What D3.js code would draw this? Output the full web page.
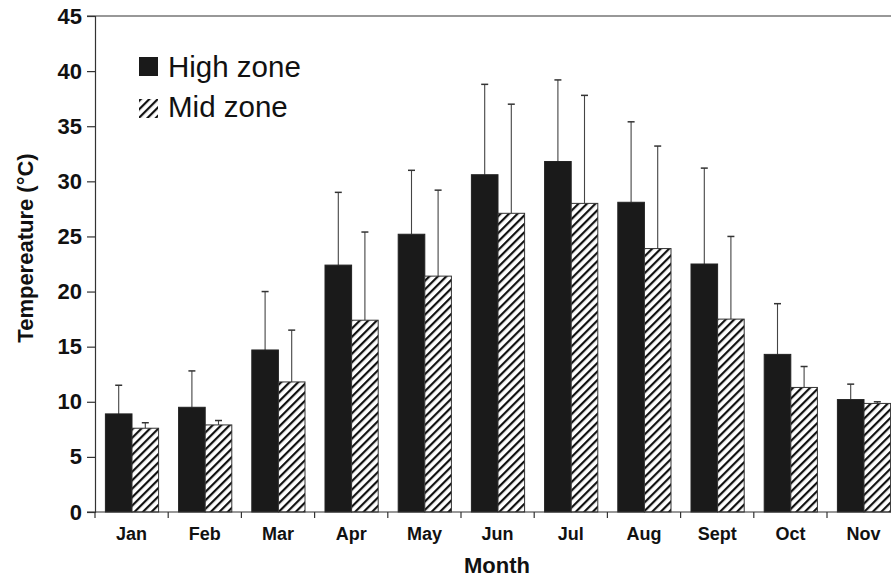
<!DOCTYPE html>
<html>
<head>
<meta charset="utf-8">
<script src="https://cdn.jsdelivr.net/npm/d3@7"></script>
<style>
  body { margin: 0; padding: 0; background: #fff; }
  text { font-family: "Liberation Sans", Arial, sans-serif; }
</style>
</head>
<body>
<div id="chart"></div>
<script>
// Data
const months = ["Jan", "Feb", "Mar", "Apr", "May", "Jun", "Jul", "Aug", "Sept", "Oct", "Nov"];
const highMean = [8.9, 9.5, 14.7, 22.4, 25.2, 30.6, 31.8, 28.1, 22.5, 14.3, 10.2];
const highErr  = [11.5, 12.8, 20.0, 29.0, 31.0, 38.8, 39.2, 35.4, 31.2, 18.9, 11.6];
const midMean  = [7.6, 7.9, 11.8, 17.4, 21.4, 27.1, 28.0, 23.9, 17.5, 11.3, 9.85];
const midErr   = [8.1, 8.3, 16.5, 25.4, 29.2, 37.0, 37.8, 33.2, 25.0, 13.2, 10.0];
const yTicks = [0, 5, 10, 15, 20, 25, 30, 35, 40, 45];

const width = 891, height = 578;
const plotLeft = 95, plotTop = 16, plotBottom = 512;

const svg = d3.select("#chart").append("svg")
    .attr("width", width)
    .attr("height", height);

// Diagonal hatch for the mid zone
const defs = svg.append("defs");
defs.append("pattern")
    .attr("id", "hatch")
    .attr("patternUnits", "userSpaceOnUse")
    .attr("width", 6)
    .attr("height", 6)
    .attr("patternTransform", "rotate(45)")
    .append("rect")
    .attr("x", 0).attr("y", 0)
    .attr("width", 2.2).attr("height", 6)
    .attr("fill", "#111");

const x = d3.scaleBand()
    .domain(months)
    .range([plotLeft, plotLeft + 11 * 73.2])
    .paddingInner(0).paddingOuter(0);

const y = d3.scaleLinear()
    .domain([0, 45])
    .range([plotBottom, plotTop]);

const barW = 26.6;
const barOff = 10.4;

// Top frame line
svg.append("line")
    .attr("x1", plotLeft - 8).attr("x2", width)
    .attr("y1", y(45)).attr("y2", y(45))
    .attr("stroke", "#333").attr("stroke-width", 1.2);

// Y axis
const yAxis = svg.append("g")
    .attr("transform", `translate(${plotLeft},0)`)
    .call(d3.axisLeft(y).tickValues(yTicks).tickSize(8).tickPadding(5));
yAxis.select(".domain").attr("stroke", "#333").attr("stroke-width", 1.2);
yAxis.selectAll(".tick line").attr("stroke", "#333").attr("stroke-width", 1.2);
yAxis.selectAll(".tick text")
    .attr("font-size", "22px").attr("font-weight", "bold").attr("fill", "#111")
    .style("font-family", "'Liberation Sans', Arial, sans-serif");

// Error bars (upward only)
function errBars(mean, err, offset, cls) {
    const g = svg.append("g").attr("class", cls);
    g.selectAll("line.v")
        .data(months)
        .enter().append("line")
        .attr("class", "v")
        .attr("x1", d => x(d) + offset + barW / 2)
        .attr("x2", d => x(d) + offset + barW / 2)
        .attr("y1", (d, i) => y(mean[i]))
        .attr("y2", (d, i) => y(err[i]))
        .attr("stroke", "#444").attr("stroke-width", 1.1);
    g.selectAll("line.c")
        .data(months)
        .enter().append("line")
        .attr("class", "c")
        .attr("x1", d => x(d) + offset + barW / 2 - 3.5)
        .attr("x2", d => x(d) + offset + barW / 2 + 3.5)
        .attr("y1", (d, i) => y(err[i]))
        .attr("y2", (d, i) => y(err[i]))
        .attr("stroke", "#333").attr("stroke-width", 1.5);
}
errBars(highMean, highErr, barOff, "err-high");
errBars(midMean, midErr, barOff + barW, "err-mid");

// High zone bars
svg.append("g").selectAll("rect")
    .data(months)
    .enter().append("rect")
    .attr("x", d => x(d) + barOff)
    .attr("y", (d, i) => y(highMean[i]))
    .attr("width", barW)
    .attr("height", (d, i) => y(0) - y(highMean[i]))
    .attr("fill", "#1a1a1a")
    .attr("stroke", "#222").attr("stroke-width", 1);

// Mid zone bars
const midG = svg.append("g");
midG.selectAll("rect.bg")
    .data(months)
    .enter().append("rect")
    .attr("class", "bg")
    .attr("x", d => x(d) + barOff + barW)
    .attr("y", (d, i) => y(midMean[i]))
    .attr("width", barW)
    .attr("height", (d, i) => y(0) - y(midMean[i]))
    .attr("fill", "#fff");
midG.selectAll("rect.fg")
    .data(months)
    .enter().append("rect")
    .attr("class", "fg")
    .attr("x", d => x(d) + barOff + barW)
    .attr("y", (d, i) => y(midMean[i]))
    .attr("width", barW)
    .attr("height", (d, i) => y(0) - y(midMean[i]))
    .attr("fill", "url(#hatch)")
    .attr("stroke", "#333").attr("stroke-width", 1);

// X axis
const xAxis = svg.append("g")
    .attr("transform", `translate(0,${plotBottom})`)
    .call(d3.axisBottom(x).tickSize(0));
xAxis.select(".domain").remove();
xAxis.append("line")
    .attr("x1", plotLeft - 8).attr("x2", width)
    .attr("y1", 0).attr("y2", 0)
    .attr("stroke", "#333").attr("stroke-width", 1.2);
xAxis.selectAll(".sep")
    .data(months)
    .enter().append("line")
    .attr("class", "sep")
    .attr("x1", d => x(d)).attr("x2", d => x(d))
    .attr("y1", 0).attr("y2", 6)
    .attr("stroke", "#333").attr("stroke-width", 1.2);
xAxis.selectAll(".tick text")
    .attr("y", 28).attr("dy", null)
    .attr("font-size", "18px").attr("font-weight", "bold").attr("fill", "#111")
    .style("font-family", "'Liberation Sans', Arial, sans-serif");

// Axis titles
svg.append("text")
    .attr("x", 497)
    .attr("y", 573)
    .attr("text-anchor", "middle")
    .attr("font-size", "22px").attr("font-weight", "bold").attr("fill", "#111")
    .text("Month");

svg.append("text")
    .attr("transform", "translate(33,248) rotate(-90)")
    .attr("text-anchor", "middle")
    .attr("font-size", "22px").attr("font-weight", "bold").attr("fill", "#111")
    .text("Tempereature (°C)");

// Legend
const legend = svg.append("g").attr("transform", "translate(139,57)");
legend.append("rect")
    .attr("x", 0).attr("y", 0).attr("width", 19).attr("height", 19)
    .attr("fill", "#1a1a1a");
legend.append("text")
    .attr("x", 29).attr("y", 19.5)
    .attr("font-size", "29.5px").attr("fill", "#111")
    .text("High zone");
legend.append("rect")
    .attr("x", 0).attr("y", 42).attr("width", 19).attr("height", 19)
    .attr("fill", "url(#hatch)");
legend.append("text")
    .attr("x", 29).attr("y", 60)
    .attr("font-size", "29.5px").attr("fill", "#111")
    .text("Mid zone");
</script>
</body>
</html>
